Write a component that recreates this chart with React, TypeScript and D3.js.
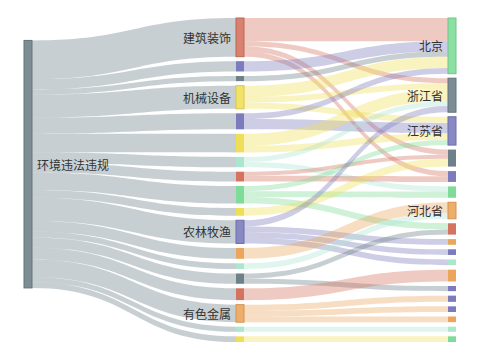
import React from 'react';
import * as d3 from 'd3';

// ---------- data ----------
const ROOT = '环境违法违规';
const industries = ['建筑装饰', '化工', '钢铁', '机械设备', '电子', '医药生物', '公用事业', '交通运输', '汽车', '食品饮料', '农林牧渔', '房地产', '建筑材料', '采掘', '轻工制造', '有色金属', '纺织服装', '商业贸易'];
const provinces = ['北京', '浙江省', '江苏省', '广东省', '山东省', '上海', '河北省', '四川省', '湖南省', '湖北省', '福建省', '河南省', '安徽省', '江西省', '辽宁省', '云南省', '天津', '陕西省'];

const flowFrom = [
  '建筑装饰', '建筑装饰', '建筑装饰', '建筑装饰',
  '化工', '钢铁',
  '机械设备', '机械设备', '机械设备',
  '电子', '电子',
  '医药生物', '医药生物',
  '公用事业', '公用事业',
  '交通运输', '交通运输',
  '汽车', '汽车', '汽车',
  '食品饮料',
  '农林牧渔', '农林牧渔', '农林牧渔', '农林牧渔',
  '房地产', '建筑材料',
  '采掘', '采掘',
  '轻工制造',
  '有色金属', '有色金属', '有色金属',
  '纺织服装', '商业贸易',
];
const flowTo = [
  '北京', '浙江省', '广东省', '山东省',
  '北京', '北京',
  '北京', '浙江省', '江苏省',
  '北京', '江苏省',
  '浙江省', '江苏省',
  '浙江省', '上海',
  '广东省', '山东省',
  '江苏省', '上海', '四川省',
  '广东省',
  '浙江省', '湖南省', '湖北省', '福建省',
  '河北省', '河北省',
  '四川省', '安徽省',
  '河南省',
  '江西省', '辽宁省', '云南省',
  '天津', '陕西省',
];
const flowValue = [
  45, 10, 10, 10,
  20, 10,
  22, 11, 12,
  11, 20,
  23, 13,
  10, 10,
  8, 11,
  10, 12, 12,
  15,
  12, 11, 11, 11,
  21, 11,
  10, 10,
  23,
  12, 11, 11,
  10, 11,
];

const labeled = new Set([ROOT, '建筑装饰', '机械设备', '农林牧渔', '有色金属', '北京', '浙江省', '江苏省', '河北省']);

// ---------- styles ----------
const C = {
  red: '#d4735e', purple: '#7b7bbd', gray: '#6f8188', yellow: '#efdf58',
  mint: '#ade6cf', green: '#7edb98', orange: '#eba55c',
};
const nodeColor: Record<string, string> = {
  [ROOT]: C.gray,
  建筑装饰: C.red, 化工: C.purple, 钢铁: C.gray, 机械设备: C.yellow, 电子: C.purple, 医药生物: C.yellow,
  公用事业: C.mint, 交通运输: C.red, 汽车: C.green, 食品饮料: C.yellow, 农林牧渔: C.purple, 房地产: C.orange,
  建筑材料: C.mint, 采掘: C.gray, 轻工制造: C.red, 有色金属: C.orange, 纺织服装: C.mint, 商业贸易: C.yellow,
  北京: C.green, 浙江省: C.gray, 江苏省: C.purple, 广东省: C.gray, 山东省: C.purple, 上海: C.green,
  河北省: C.orange, 四川省: C.red, 湖南省: C.orange, 湖北省: C.purple, 福建省: C.mint, 河南省: C.orange,
  安徽省: C.purple, 江西省: C.purple, 辽宁省: C.purple, 云南省: C.orange, 天津: C.mint, 陕西省: C.green,
};

const W = 480, H = 360;
const X0 = W * 0.05, X1 = W * 0.95, Y0 = H * 0.05, Y1 = H * 0.95;
const NODE_W = 8, GAP = 4.5, LINK_OPACITY = 0.38;

type N = { name: string; col: number; value: number; x: number; y0: number; y1: number; out: L[]; inn: L[] };
type L = { s: N; t: N; value: number; sy: number; ty: number; w: number };

function layout() {
  const nodes = new Map<string, N>();
  const add = (name: string, col: number) => nodes.set(name, { name, col, value: 0, x: 0, y0: 0, y1: 0, out: [], inn: [] });
  add(ROOT, 0);
  industries.forEach(n => add(n, 1));
  provinces.forEach(n => add(n, 2));
  const links: L[] = [];
  industries.forEach(ind => {
    const v = d3.sum(flowFrom.map((f, i) => (f === ind ? flowValue[i] : 0)));
    links.push({ s: nodes.get(ROOT)!, t: nodes.get(ind)!, value: v, sy: 0, ty: 0, w: 0 });
  });
  flowFrom.forEach((f, i) => links.push({ s: nodes.get(f)!, t: nodes.get(flowTo[i])!, value: flowValue[i], sy: 0, ty: 0, w: 0 }));
  links.forEach(l => { l.s.out.push(l); l.t.inn.push(l); });
  nodes.forEach(n => { n.value = Math.max(d3.sum(n.out, l => l.value), d3.sum(n.inn, l => l.value)); });

  const cols = [[ROOT], industries, provinces].map(c => c.map(n => nodes.get(n)!));
  const ky = d3.min(cols, c => (Y1 - Y0 - (c.length - 1) * GAP) / d3.sum(c, n => n.value))!;
  const vScale = d3.scaleLinear().domain([0, 1]).range([0, ky]);
  const xScale = d3.scaleLinear().domain([0, 2]).range([X0, X1 - NODE_W]);

  cols.forEach((c, ci) => {
    let y = Y0;
    c.forEach(n => {
      n.x = xScale(ci);
      n.y0 = y; n.y1 = y + vScale(n.value); y = n.y1 + GAP;
    });
  });
  // single root node: relaxed toward the value-weighted position of its targets
  const root = nodes.get(ROOT)!;
  const cy = d3.sum(root.out, l => l.t.y0 * l.value) / d3.sum(root.out, l => l.value);
  const h = vScale(root.value);
  root.y0 = cy - h / 2; root.y1 = cy + h / 2;

  nodes.forEach(n => {
    n.out.sort((a, b) => a.t.y0 - b.t.y0);
    n.inn.sort((a, b) => a.s.y0 - b.s.y0);
    let y = n.y0;
    n.out.forEach(l => { l.w = vScale(l.value); l.sy = y; y += l.w; });
    y = n.y0;
    n.inn.forEach(l => { l.ty = y; y += vScale(l.value); });
  });
  return { nodes: Array.from(nodes.values()), links };
}

function linkPath(l: L) {
  const x0 = l.s.x + NODE_W, x1 = l.t.x;
  const xm = d3.interpolateNumber(x0, x1)(0.5);
  const p = d3.path();
  p.moveTo(x0, l.sy);
  p.bezierCurveTo(xm, l.sy, xm, l.ty, x1, l.ty);
  p.lineTo(x1, l.ty + l.w);
  p.bezierCurveTo(xm, l.ty + l.w, xm, l.sy + l.w, x0, l.sy + l.w);
  p.closePath();
  return p.toString();
}

export default function App() {
  const { nodes, links } = layout();
  return (
    <svg width={W} height={H} style={{ position: 'absolute', left: 0, top: 0, background: '#fff' }}
      fontFamily='"Noto Sans CJK SC", "Noto Sans", sans-serif'>
      <g>
        {links.map((l, i) => (
          <path key={i} d={linkPath(l)} fill={nodeColor[l.s.name]} fillOpacity={LINK_OPACITY} />
        ))}
      </g>
      <g>
        {nodes.map(n => {
          const lab = labeled.has(n.name);
          return (
            <rect key={n.name} x={n.x} y={n.y0} width={NODE_W} height={n.y1 - n.y0}
              fill={nodeColor[n.name]} fillOpacity={lab ? 0.9 : 1}
              stroke={lab ? d3.color(nodeColor[n.name])!.darker(0.3).toString() : 'none'} strokeWidth={lab ? 1 : 0} />
          );
        })}
      </g>
      <g fontSize={12} fill="#333">
        {nodes.filter(n => labeled.has(n.name)).map(n => {
          const right = n.col === 0;
          return (
            <text key={n.name} x={right ? n.x + NODE_W + 5 : n.x - 5} y={(n.y0 + n.y1) / 2}
              textAnchor={right ? 'start' : 'end'} dominantBaseline="central">{n.name}</text>
          );
        })}
      </g>
    </svg>
  );
}
